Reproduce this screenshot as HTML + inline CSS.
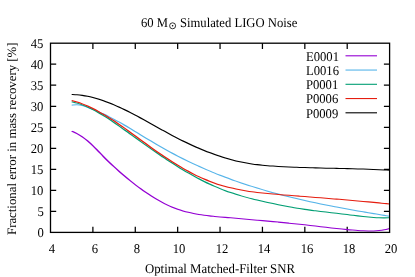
<!DOCTYPE html>
<html><head><meta charset="utf-8"><title>chart</title>
<style>
html,body{margin:0;padding:0;background:#fff;}
body{width:415px;height:277px;position:relative;overflow:hidden;will-change:transform;font-family:"Liberation Serif",serif;color:#000;text-rendering:geometricPrecision;}
</style></head><body>
<svg width="415" height="277" viewBox="0 0 415 277" style="position:absolute;left:0;top:0">
<path d="M50.50 211.38h5.70M389.60 211.38h-5.70M50.50 190.36h5.70M389.60 190.36h-5.70M50.50 169.33h5.70M389.60 169.33h-5.70M50.50 148.31h5.70M389.60 148.31h-5.70M50.50 127.29h5.70M389.60 127.29h-5.70M50.50 106.27h5.70M389.60 106.27h-5.70M50.50 85.24h5.70M389.60 85.24h-5.70M50.50 64.22h5.70M389.60 64.22h-5.70M92.89 232.40v-5.70M92.89 43.20v5.70M135.28 232.40v-5.70M135.28 43.20v5.70M177.66 232.40v-5.70M177.66 43.20v5.70M220.05 232.40v-5.70M220.05 43.20v5.70M262.44 232.40v-5.70M262.44 43.20v5.70M304.83 232.40v-5.70M304.83 43.20v5.70M347.21 232.40v-5.70M347.21 43.20v5.70" stroke="#000" stroke-width="1.25" fill="none"/>
<path d="M46.25 131.12 C46.82 131.54 48.53 132.72 49.67 133.66 C50.81 134.60 51.95 135.58 53.09 136.78 C54.23 137.98 55.37 139.36 56.51 140.86 C57.65 142.35 58.79 144.03 59.93 145.74 C61.07 147.45 62.21 149.30 63.35 151.11 C64.49 152.93 65.62 154.82 66.76 156.62 C67.90 158.41 69.04 160.18 70.18 161.88 C71.32 163.58 72.46 165.21 73.60 166.82 C74.74 168.43 75.88 170.01 77.02 171.57 C78.16 173.12 79.30 174.65 80.44 176.15 C81.58 177.64 82.72 179.11 83.86 180.54 C85.00 181.97 86.13 183.37 87.27 184.74 C88.41 186.10 89.55 187.43 90.69 188.71 C91.83 190.00 92.97 191.25 94.11 192.46 C95.25 193.67 96.39 194.84 97.53 195.96 C98.67 197.08 99.81 198.17 100.95 199.20 C102.09 200.23 103.23 201.22 104.37 202.16 C105.51 203.10 106.64 203.99 107.78 204.83 C108.92 205.67 110.06 206.46 111.20 207.19 C112.34 207.93 113.48 208.61 114.62 209.23 C115.76 209.86 116.90 210.42 118.04 210.94 C119.18 211.46 120.32 211.93 121.46 212.36 C122.60 212.79 123.74 213.16 124.88 213.51 C126.02 213.86 127.15 214.17 128.29 214.46 C129.43 214.74 130.57 214.99 131.71 215.23 C132.85 215.46 133.99 215.67 135.13 215.86 C136.27 216.06 137.41 216.23 138.55 216.41 C139.69 216.58 140.83 216.74 141.97 216.90 C143.11 217.06 144.25 217.22 145.39 217.38 C146.53 217.54 147.66 217.69 148.80 217.85 C149.94 218.01 151.08 218.16 152.22 218.32 C153.36 218.47 154.50 218.62 155.64 218.78 C156.78 218.93 157.92 219.09 159.06 219.24 C160.20 219.39 161.34 219.55 162.48 219.70 C163.62 219.86 164.76 220.01 165.90 220.17 C167.04 220.32 168.18 220.48 169.31 220.64 C170.45 220.80 171.59 220.96 172.73 221.12 C173.87 221.28 175.01 221.44 176.15 221.61 C177.29 221.77 178.43 221.94 179.57 222.11 C180.71 222.27 181.85 222.44 182.99 222.62 C184.13 222.79 185.27 222.97 186.41 223.15 C187.55 223.33 188.69 223.51 189.82 223.69 C190.96 223.88 192.10 224.07 193.24 224.26 C194.38 224.45 195.52 224.65 196.66 224.85 C197.80 225.05 198.94 225.25 200.08 225.46 C201.22 225.67 202.36 225.88 203.50 226.09 C204.64 226.29 205.78 226.51 206.92 226.72 C208.06 226.93 209.20 227.14 210.33 227.34 C211.47 227.55 212.61 227.75 213.75 227.95 C214.89 228.15 216.03 228.35 217.17 228.54 C218.31 228.73 219.45 228.92 220.59 229.10 C221.73 229.28 222.87 229.45 224.01 229.61 C225.15 229.78 226.29 229.93 227.43 230.08 C228.57 230.22 229.71 230.36 230.84 230.48 C231.98 230.60 233.12 230.72 234.26 230.80 C235.40 230.88 236.54 230.95 237.68 230.97 C238.82 230.98 239.96 230.97 241.10 230.90 C242.24 230.83 243.38 230.71 244.52 230.52 C245.66 230.33 246.80 230.09 247.94 229.75 C249.08 229.41 250.79 228.71 251.35 228.50" transform="scale(1.550 1)" stroke="#9400d3" stroke-width="1.05" fill="none" stroke-linecap="butt" stroke-linejoin="round"/>
<path d="M46.25 105.24 C46.82 105.15 48.53 104.67 49.67 104.71 C50.81 104.75 51.95 105.06 53.09 105.49 C54.23 105.92 55.37 106.66 56.51 107.31 C57.65 107.95 58.79 108.63 59.93 109.34 C61.07 110.05 62.21 110.80 63.35 111.57 C64.49 112.35 65.62 113.15 66.76 113.98 C67.90 114.82 69.04 115.68 70.18 116.57 C71.32 117.46 72.46 118.37 73.60 119.32 C74.74 120.26 75.88 121.23 77.02 122.22 C78.16 123.21 79.30 124.22 80.44 125.25 C81.58 126.27 82.72 127.32 83.86 128.37 C85.00 129.42 86.13 130.49 87.27 131.56 C88.41 132.63 89.55 133.71 90.69 134.78 C91.83 135.86 92.97 136.94 94.11 138.01 C95.25 139.09 96.39 140.16 97.53 141.22 C98.67 142.28 99.81 143.33 100.95 144.37 C102.09 145.40 103.23 146.43 104.37 147.44 C105.51 148.44 106.64 149.43 107.78 150.40 C108.92 151.38 110.06 152.34 111.20 153.28 C112.34 154.22 113.48 155.15 114.62 156.06 C115.76 156.97 116.90 157.86 118.04 158.75 C119.18 159.63 120.32 160.49 121.46 161.35 C122.60 162.20 123.74 163.03 124.88 163.86 C126.02 164.68 127.15 165.49 128.29 166.29 C129.43 167.08 130.57 167.86 131.71 168.63 C132.85 169.40 133.99 170.15 135.13 170.90 C136.27 171.64 137.41 172.37 138.55 173.08 C139.69 173.80 140.83 174.50 141.97 175.20 C143.11 175.89 144.25 176.57 145.39 177.23 C146.53 177.90 147.66 178.56 148.80 179.20 C149.94 179.85 151.08 180.48 152.22 181.10 C153.36 181.72 154.50 182.33 155.64 182.93 C156.78 183.53 157.92 184.12 159.06 184.70 C160.20 185.28 161.34 185.84 162.48 186.40 C163.62 186.96 164.76 187.51 165.90 188.05 C167.04 188.59 168.18 189.12 169.31 189.64 C170.45 190.16 171.59 190.67 172.73 191.17 C173.87 191.67 175.01 192.16 176.15 192.65 C177.29 193.13 178.43 193.61 179.57 194.07 C180.71 194.54 181.85 195.00 182.99 195.45 C184.13 195.91 185.27 196.35 186.41 196.79 C187.55 197.22 188.69 197.65 189.82 198.07 C190.96 198.50 192.10 198.91 193.24 199.32 C194.38 199.73 195.52 200.13 196.66 200.53 C197.80 200.92 198.94 201.31 200.08 201.70 C201.22 202.08 202.36 202.46 203.50 202.83 C204.64 203.20 205.78 203.57 206.92 203.93 C208.06 204.29 209.20 204.65 210.33 205.00 C211.47 205.35 212.61 205.70 213.75 206.04 C214.89 206.39 216.03 206.72 217.17 207.06 C218.31 207.39 219.45 207.72 220.59 208.05 C221.73 208.38 222.87 208.70 224.01 209.02 C225.15 209.34 226.29 209.66 227.43 209.97 C228.57 210.28 229.71 210.59 230.84 210.90 C231.98 211.21 233.12 211.52 234.26 211.82 C235.40 212.12 236.54 212.43 237.68 212.72 C238.82 213.02 239.96 213.32 241.10 213.62 C242.24 213.92 243.38 214.21 244.52 214.51 C245.66 214.80 246.80 215.09 247.94 215.38 C249.08 215.68 250.79 216.11 251.35 216.26" transform="scale(1.550 1)" stroke="#56b4e9" stroke-width="1.05" fill="none" stroke-linecap="butt" stroke-linejoin="round"/>
<path d="M46.25 101.73 C46.82 101.96 48.53 102.58 49.67 103.11 C50.81 103.64 51.95 104.25 53.09 104.92 C54.23 105.58 55.37 106.32 56.51 107.11 C57.65 107.90 58.79 108.75 59.93 109.65 C61.07 110.55 62.21 111.51 63.35 112.50 C64.49 113.50 65.62 114.54 66.76 115.63 C67.90 116.71 69.04 117.83 70.18 118.98 C71.32 120.14 72.46 121.33 73.60 122.54 C74.74 123.75 75.88 125.00 77.02 126.25 C78.16 127.50 79.30 128.77 80.44 130.04 C81.58 131.31 82.72 132.59 83.86 133.86 C85.00 135.13 86.13 136.41 87.27 137.68 C88.41 138.95 89.55 140.23 90.69 141.49 C91.83 142.75 92.97 144.02 94.11 145.27 C95.25 146.52 96.39 147.77 97.53 149.00 C98.67 150.23 99.81 151.46 100.95 152.67 C102.09 153.89 103.23 155.09 104.37 156.28 C105.51 157.46 106.64 158.64 107.78 159.80 C108.92 160.96 110.06 162.11 111.20 163.24 C112.34 164.36 113.48 165.48 114.62 166.57 C115.76 167.67 116.90 168.75 118.04 169.81 C119.18 170.86 120.32 171.90 121.46 172.92 C122.60 173.94 123.74 174.94 124.88 175.91 C126.02 176.88 127.15 177.84 128.29 178.76 C129.43 179.69 130.57 180.60 131.71 181.47 C132.85 182.35 133.99 183.21 135.13 184.03 C136.27 184.86 137.41 185.66 138.55 186.42 C139.69 187.19 140.83 187.93 141.97 188.65 C143.11 189.36 144.25 190.03 145.39 190.69 C146.53 191.34 147.66 191.96 148.80 192.57 C149.94 193.17 151.08 193.74 152.22 194.29 C153.36 194.85 154.50 195.38 155.64 195.89 C156.78 196.40 157.92 196.89 159.06 197.37 C160.20 197.85 161.34 198.31 162.48 198.75 C163.62 199.20 164.76 199.63 165.90 200.05 C167.04 200.47 168.18 200.88 169.31 201.28 C170.45 201.68 171.59 202.08 172.73 202.46 C173.87 202.85 175.01 203.23 176.15 203.60 C177.29 203.98 178.43 204.34 179.57 204.70 C180.71 205.06 181.85 205.41 182.99 205.75 C184.13 206.09 185.27 206.42 186.41 206.74 C187.55 207.06 188.69 207.38 189.82 207.68 C190.96 207.98 192.10 208.28 193.24 208.56 C194.38 208.84 195.52 209.11 196.66 209.38 C197.80 209.64 198.94 209.88 200.08 210.12 C201.22 210.37 202.36 210.59 203.50 210.82 C204.64 211.04 205.78 211.26 206.92 211.47 C208.06 211.68 209.20 211.89 210.33 212.09 C211.47 212.30 212.61 212.50 213.75 212.70 C214.89 212.90 216.03 213.10 217.17 213.31 C218.31 213.51 219.45 213.71 220.59 213.92 C221.73 214.13 222.87 214.34 224.01 214.56 C225.15 214.78 226.29 215.01 227.43 215.23 C228.57 215.45 229.71 215.68 230.84 215.89 C231.98 216.11 233.12 216.32 234.26 216.52 C235.40 216.72 236.54 216.91 237.68 217.07 C238.82 217.24 239.96 217.39 241.10 217.51 C242.24 217.63 243.38 217.73 244.52 217.79 C245.66 217.86 246.80 217.90 247.94 217.89 C249.08 217.88 250.79 217.78 251.35 217.76" transform="scale(1.550 1)" stroke="#009e73" stroke-width="1.05" fill="none" stroke-linecap="butt" stroke-linejoin="round"/>
<path d="M46.25 100.58 C46.82 100.82 48.53 101.49 49.67 102.04 C50.81 102.59 51.95 103.21 53.09 103.88 C54.23 104.55 55.37 105.28 56.51 106.05 C57.65 106.83 58.79 107.66 59.93 108.54 C61.07 109.41 62.21 110.34 63.35 111.30 C64.49 112.27 65.62 113.28 66.76 114.32 C67.90 115.36 69.04 116.44 70.18 117.55 C71.32 118.66 72.46 119.81 73.60 120.98 C74.74 122.14 75.88 123.34 77.02 124.56 C78.16 125.77 79.30 127.01 80.44 128.27 C81.58 129.52 82.72 130.80 83.86 132.07 C85.00 133.35 86.13 134.65 87.27 135.94 C88.41 137.24 89.55 138.54 90.69 139.83 C91.83 141.13 92.97 142.43 94.11 143.71 C95.25 144.99 96.39 146.27 97.53 147.54 C98.67 148.80 99.81 150.05 100.95 151.28 C102.09 152.51 103.23 153.73 104.37 154.93 C105.51 156.13 106.64 157.31 107.78 158.47 C108.92 159.63 110.06 160.77 111.20 161.89 C112.34 163.00 113.48 164.10 114.62 165.17 C115.76 166.24 116.90 167.28 118.04 168.30 C119.18 169.32 120.32 170.31 121.46 171.27 C122.60 172.23 123.74 173.16 124.88 174.06 C126.02 174.96 127.15 175.83 128.29 176.66 C129.43 177.50 130.57 178.30 131.71 179.06 C132.85 179.83 133.99 180.56 135.13 181.25 C136.27 181.94 137.41 182.59 138.55 183.20 C139.69 183.82 140.83 184.40 141.97 184.95 C143.11 185.49 144.25 186.00 145.39 186.49 C146.53 186.97 147.66 187.42 148.80 187.84 C149.94 188.27 151.08 188.66 152.22 189.03 C153.36 189.40 154.50 189.75 155.64 190.07 C156.78 190.39 157.92 190.69 159.06 190.97 C160.20 191.26 161.34 191.52 162.48 191.76 C163.62 192.01 164.76 192.23 165.90 192.45 C167.04 192.66 168.18 192.86 169.31 193.04 C170.45 193.23 171.59 193.41 172.73 193.58 C173.87 193.74 175.01 193.90 176.15 194.05 C177.29 194.21 178.43 194.35 179.57 194.50 C180.71 194.64 181.85 194.78 182.99 194.92 C184.13 195.06 185.27 195.20 186.41 195.34 C187.55 195.48 188.69 195.62 189.82 195.76 C190.96 195.89 192.10 196.03 193.24 196.17 C194.38 196.31 195.52 196.45 196.66 196.59 C197.80 196.72 198.94 196.86 200.08 197.00 C201.22 197.14 202.36 197.28 203.50 197.42 C204.64 197.56 205.78 197.70 206.92 197.84 C208.06 197.98 209.20 198.12 210.33 198.26 C211.47 198.41 212.61 198.55 213.75 198.69 C214.89 198.84 216.03 198.98 217.17 199.13 C218.31 199.27 219.45 199.42 220.59 199.56 C221.73 199.71 222.87 199.86 224.01 200.01 C225.15 200.16 226.29 200.31 227.43 200.47 C228.57 200.62 229.71 200.77 230.84 200.93 C231.98 201.09 233.12 201.24 234.26 201.40 C235.40 201.56 236.54 201.72 237.68 201.89 C238.82 202.05 239.96 202.22 241.10 202.38 C242.24 202.55 243.38 202.72 244.52 202.89 C245.66 203.06 246.80 203.24 247.94 203.41 C249.08 203.59 250.79 203.86 251.35 203.95" transform="scale(1.550 1)" stroke="#e51e10" stroke-width="1.05" fill="none" stroke-linecap="butt" stroke-linejoin="round"/>
<path d="M46.25 94.40 C46.82 94.45 48.53 94.56 49.67 94.72 C50.81 94.88 51.95 95.10 53.09 95.37 C54.23 95.63 55.37 95.95 56.51 96.32 C57.65 96.68 58.79 97.10 59.93 97.55 C61.07 98.01 62.21 98.51 63.35 99.05 C64.49 99.59 65.62 100.18 66.76 100.79 C67.90 101.41 69.04 102.07 70.18 102.75 C71.32 103.44 72.46 104.16 73.60 104.91 C74.74 105.67 75.88 106.45 77.02 107.25 C78.16 108.06 79.30 108.90 80.44 109.75 C81.58 110.61 82.72 111.49 83.86 112.39 C85.00 113.28 86.13 114.20 87.27 115.14 C88.41 116.07 89.55 117.02 90.69 117.98 C91.83 118.94 92.97 119.92 94.11 120.89 C95.25 121.87 96.39 122.86 97.53 123.85 C98.67 124.83 99.81 125.83 100.95 126.82 C102.09 127.81 103.23 128.80 104.37 129.78 C105.51 130.76 106.64 131.74 107.78 132.70 C108.92 133.66 110.06 134.62 111.20 135.56 C112.34 136.50 113.48 137.42 114.62 138.33 C115.76 139.23 116.90 140.12 118.04 140.98 C119.18 141.85 120.32 142.70 121.46 143.52 C122.60 144.35 123.74 145.16 124.88 145.95 C126.02 146.74 127.15 147.51 128.29 148.26 C129.43 149.01 130.57 149.75 131.71 150.46 C132.85 151.17 133.99 151.87 135.13 152.54 C136.27 153.21 137.41 153.87 138.55 154.51 C139.69 155.14 140.83 155.76 141.97 156.34 C143.11 156.93 144.25 157.50 145.39 158.03 C146.53 158.57 147.66 159.08 148.80 159.55 C149.94 160.03 151.08 160.48 152.22 160.89 C153.36 161.31 154.50 161.70 155.64 162.06 C156.78 162.42 157.92 162.75 159.06 163.05 C160.20 163.36 161.34 163.64 162.48 163.90 C163.62 164.16 164.76 164.40 165.90 164.61 C167.04 164.83 168.18 165.02 169.31 165.20 C170.45 165.38 171.59 165.54 172.73 165.69 C173.87 165.84 175.01 165.97 176.15 166.10 C177.29 166.22 178.43 166.33 179.57 166.44 C180.71 166.54 181.85 166.64 182.99 166.73 C184.13 166.82 185.27 166.90 186.41 166.98 C187.55 167.06 188.69 167.14 189.82 167.21 C190.96 167.28 192.10 167.34 193.24 167.41 C194.38 167.47 195.52 167.53 196.66 167.59 C197.80 167.64 198.94 167.69 200.08 167.75 C201.22 167.80 202.36 167.84 203.50 167.89 C204.64 167.94 205.78 167.98 206.92 168.02 C208.06 168.07 209.20 168.11 210.33 168.15 C211.47 168.19 212.61 168.23 213.75 168.26 C214.89 168.30 216.03 168.34 217.17 168.38 C218.31 168.42 219.45 168.46 220.59 168.50 C221.73 168.54 222.87 168.58 224.01 168.62 C225.15 168.67 226.29 168.71 227.43 168.75 C228.57 168.80 229.71 168.85 230.84 168.90 C231.98 168.95 233.12 169.00 234.26 169.05 C235.40 169.11 236.54 169.17 237.68 169.23 C238.82 169.29 239.96 169.36 241.10 169.43 C242.24 169.50 243.38 169.57 244.52 169.65 C245.66 169.73 246.80 169.81 247.94 169.90 C249.08 169.99 250.79 170.14 251.35 170.18" transform="scale(1.550 1)" stroke="#000000" stroke-width="1.05" fill="none" stroke-linecap="butt" stroke-linejoin="round"/>
<path d="M345.5 55.80H377" stroke="#9400d3" stroke-width="1.1" fill="none"/>
<path d="M345.5 70.05H377" stroke="#56b4e9" stroke-width="1.1" fill="none"/>
<path d="M345.5 84.30H377" stroke="#009e73" stroke-width="1.1" fill="none"/>
<path d="M345.5 98.55H377" stroke="#e51e10" stroke-width="1.1" fill="none"/>
<path d="M345.5 112.80H377" stroke="#000000" stroke-width="1.1" fill="none"/>
<rect x="50.50" y="43.20" width="339.10" height="189.20" fill="none" stroke="#000" stroke-width="1.3"/>
<circle cx="172.6" cy="25.8" r="3" fill="none" stroke="#000" stroke-width="0.8"/><circle cx="172.6" cy="25.8" r="0.8" fill="#000"/>
</svg>
<div style="position:absolute;white-space:pre;line-height:13.40px;font-size:13.40px;top:226.18px;right:371.30px;text-align:right;transform:scaleX(0.9440);transform-origin:100% 0;">0</div>
<div style="position:absolute;white-space:pre;line-height:13.40px;font-size:13.40px;top:205.16px;right:371.30px;text-align:right;transform:scaleX(0.9440);transform-origin:100% 0;">5</div>
<div style="position:absolute;white-space:pre;line-height:13.40px;font-size:13.40px;top:184.13px;right:371.30px;text-align:right;transform:scaleX(0.9440);transform-origin:100% 0;">10</div>
<div style="position:absolute;white-space:pre;line-height:13.40px;font-size:13.40px;top:163.11px;right:371.30px;text-align:right;transform:scaleX(0.9440);transform-origin:100% 0;">15</div>
<div style="position:absolute;white-space:pre;line-height:13.40px;font-size:13.40px;top:142.09px;right:371.30px;text-align:right;transform:scaleX(0.9440);transform-origin:100% 0;">20</div>
<div style="position:absolute;white-space:pre;line-height:13.40px;font-size:13.40px;top:121.07px;right:371.30px;text-align:right;transform:scaleX(0.9440);transform-origin:100% 0;">25</div>
<div style="position:absolute;white-space:pre;line-height:13.40px;font-size:13.40px;top:100.04px;right:371.30px;text-align:right;transform:scaleX(0.9440);transform-origin:100% 0;">30</div>
<div style="position:absolute;white-space:pre;line-height:13.40px;font-size:13.40px;top:79.02px;right:371.30px;text-align:right;transform:scaleX(0.9440);transform-origin:100% 0;">35</div>
<div style="position:absolute;white-space:pre;line-height:13.40px;font-size:13.40px;top:58.00px;right:371.30px;text-align:right;transform:scaleX(0.9440);transform-origin:100% 0;">40</div>
<div style="position:absolute;white-space:pre;line-height:13.40px;font-size:13.40px;top:36.98px;right:371.30px;text-align:right;transform:scaleX(0.9440);transform-origin:100% 0;">45</div>
<div style="position:absolute;white-space:pre;line-height:13.40px;font-size:13.40px;top:241.68px;left:52.30px;width:240px;margin-left:-120px;text-align:center;transform:scaleX(0.9440);transform-origin:50% 0;">4</div>
<div style="position:absolute;white-space:pre;line-height:13.40px;font-size:13.40px;top:241.68px;left:94.69px;width:240px;margin-left:-120px;text-align:center;transform:scaleX(0.9440);transform-origin:50% 0;">6</div>
<div style="position:absolute;white-space:pre;line-height:13.40px;font-size:13.40px;top:241.68px;left:137.08px;width:240px;margin-left:-120px;text-align:center;transform:scaleX(0.9440);transform-origin:50% 0;">8</div>
<div style="position:absolute;white-space:pre;line-height:13.40px;font-size:13.40px;top:241.68px;left:179.46px;width:240px;margin-left:-120px;text-align:center;transform:scaleX(0.9440);transform-origin:50% 0;">10</div>
<div style="position:absolute;white-space:pre;line-height:13.40px;font-size:13.40px;top:241.68px;left:221.85px;width:240px;margin-left:-120px;text-align:center;transform:scaleX(0.9440);transform-origin:50% 0;">12</div>
<div style="position:absolute;white-space:pre;line-height:13.40px;font-size:13.40px;top:241.68px;left:264.24px;width:240px;margin-left:-120px;text-align:center;transform:scaleX(0.9440);transform-origin:50% 0;">14</div>
<div style="position:absolute;white-space:pre;line-height:13.40px;font-size:13.40px;top:241.68px;left:306.63px;width:240px;margin-left:-120px;text-align:center;transform:scaleX(0.9440);transform-origin:50% 0;">16</div>
<div style="position:absolute;white-space:pre;line-height:13.40px;font-size:13.40px;top:241.68px;left:349.01px;width:240px;margin-left:-120px;text-align:center;transform:scaleX(0.9440);transform-origin:50% 0;">18</div>
<div style="position:absolute;white-space:pre;line-height:13.40px;font-size:13.40px;top:241.68px;left:391.40px;width:240px;margin-left:-120px;text-align:center;transform:scaleX(0.9440);transform-origin:50% 0;">20</div>
<div style="position:absolute;white-space:pre;line-height:13.40px;font-size:13.40px;top:49.58px;right:76.40px;text-align:right;transform:scaleX(0.9440);transform-origin:100% 0;">E0001</div>
<div style="position:absolute;white-space:pre;line-height:13.40px;font-size:13.40px;top:63.83px;right:76.40px;text-align:right;transform:scaleX(0.9440);transform-origin:100% 0;">L0016</div>
<div style="position:absolute;white-space:pre;line-height:13.40px;font-size:13.40px;top:78.08px;right:76.40px;text-align:right;transform:scaleX(0.9440);transform-origin:100% 0;">P0001</div>
<div style="position:absolute;white-space:pre;line-height:13.40px;font-size:13.40px;top:92.33px;right:76.40px;text-align:right;transform:scaleX(0.9440);transform-origin:100% 0;">P0006</div>
<div style="position:absolute;white-space:pre;line-height:13.40px;font-size:13.40px;top:106.58px;right:76.40px;text-align:right;transform:scaleX(0.9440);transform-origin:100% 0;">P0009</div>
<div style="position:absolute;white-space:pre;line-height:13.40px;font-size:13.40px;top:15.88px;left:140.80px;transform:scaleX(0.9440);transform-origin:0 0;">60 M</div>
<div style="position:absolute;white-space:pre;line-height:13.40px;font-size:13.40px;top:15.88px;left:179.70px;transform:scaleX(0.9440);transform-origin:0 0;">Simulated LIGO Noise</div>
<div style="position:absolute;white-space:pre;line-height:13.40px;font-size:13.40px;top:262.28px;left:220.00px;width:240px;margin-left:-120px;text-align:center;transform:scaleX(0.9563);transform-origin:50% 0;">Optimal Matched-Filter SNR</div>
<div style="position:absolute;white-space:pre;font-size:12.82px;line-height:12.82px;left:6.09px;top:8.50px;height:260px;width:12.82px;text-align:center;writing-mode:vertical-rl;transform:rotate(180deg);transform-origin:50% 50%;">Fractional error in mass recovery [%]</div>
</body></html>
